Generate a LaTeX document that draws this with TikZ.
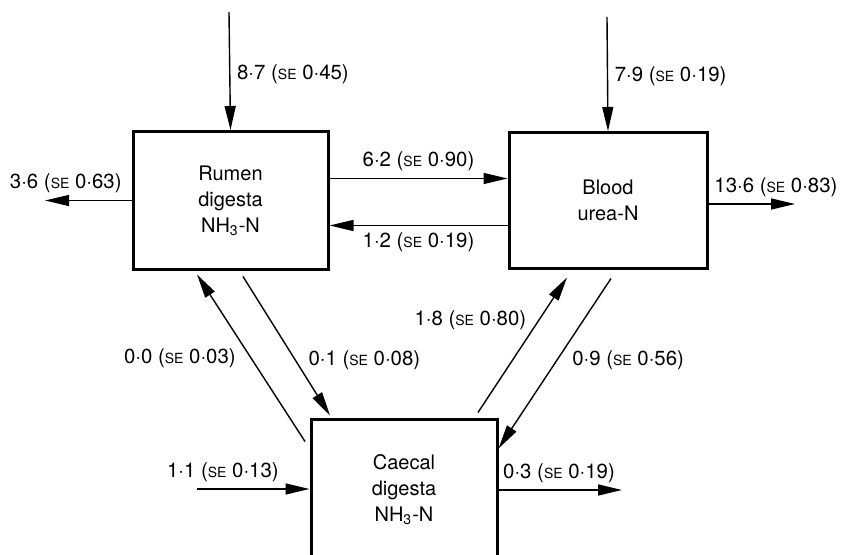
\documentclass[tikz,border=0pt]{standalone}
\usepackage{fontspec}
\setmainfont{TeX Gyre Heros}
\usetikzlibrary{arrows.meta}
\tikzset{
	flow/.style={line width=0.7pt, -{Triangle[length=12pt, width=5.5pt]}},
	pool/.style={draw, line width=1.5pt, align=center, inner sep=0pt, font=\fontsize{10}{13}\selectfont},
	rate/.style={font=\fontsize{10.2}{12}\selectfont, inner sep=3.3pt},
}
\newcommand{\se}{{\fontsize{7}{8}\selectfont SE}}

\begin{document}
\begin{tikzpicture}[x=0.5pt, y=-0.5pt]
			\useasboundingbox (0,0) rectangle (843,555);
			\clip (0,0) rectangle (843,555);

			\node[pool, minimum width=97.5pt, minimum height=69pt] (rumen) at (230.5,200.5) {Rumen\\digesta\\NH\textsubscript{3}-N};
			\node[pool, minimum width=99pt, minimum height=68pt] (blood) at (608,200.5) {Blood\\urea-N};
			\node[pool, minimum width=93pt, minimum height=70pt] (caecal) at (404,490) {Caecal\\digesta\\NH\textsubscript{3}-N};

			\coordinate (rumenin) at (229,12);
			\coordinate (bloodin) at (607,17);
			\coordinate (rumenout) at (45,200.5);
			\coordinate (bloodout) at (795,204);
			\coordinate (caecalin) at (197,489);
			\coordinate (caecalout) at (622,490);

			\draw[flow] (rumenin) -- node[rate, right, pos=0.53] {8·7 (\se\ 0·45)} (rumen.north);
			\draw[flow] (bloodin) -- node[rate, right, pos=0.52] {7·9 (\se\ 0·19)} (blood.north);
			\draw[flow] (rumen.west) -- node[rate, above, pos=0.76] {3·6 (\se\ 0·63)} (rumenout);
			\draw[flow] ([yshift=-1.75pt]blood.east) -- node[rate, above, pos=0.78] {13·6 (\se\ 0·83)} (bloodout);

			\draw[flow] ([yshift=11pt]rumen.east) -- node[rate, above] {6·2 (\se\ 0·90)} ([yshift=11pt]blood.west);
			\draw[flow] ([yshift=-12.5pt]blood.west) -- node[rate, below] {1·2 (\se\ 0·19)} ([yshift=-12.5pt]rumen.east);

			\draw[flow] ([xshift=-49.5pt, yshift=-11.5pt]caecal.north) -- node[rate, left=4pt, pos=0.5] {0·0 (\se\ 0·03)} ([xshift=-16.75pt, yshift=-1.75pt]rumen.south);
			\draw[flow] ([xshift=6.25pt, yshift=-2.75pt]rumen.south) -- node[rate, right=3pt, pos=0.6] {0·1 (\se\ 0·08)} ([xshift=-37pt, yshift=1.5pt]caecal.north);
			\draw[flow] ([xshift=37pt, yshift=3pt]caecal.north) -- node[rate, left=2.5pt, pos=0.68] {1·8 (\se\ 0·80)} ([xshift=-20.5pt, yshift=-3.75pt]blood.south);
			\draw[flow] ([xshift=1.5pt, yshift=-4.25pt]blood.south) -- node[rate, right=4pt, pos=0.48] {0·9 (\se\ 0·56)} ([yshift=-15pt]caecal.north east);

			\draw[flow] (caecalin) -- node[rate, above, pos=0.23] {1·1 (\se\ 0·13)} ([yshift=0.5pt]caecal.west);
			\draw[flow] ([yshift=0pt]caecal.east) -- node[rate, above, pos=0.49] {0·3 (\se\ 0·19)} (caecalout);
		\end{tikzpicture}
\end{document}
